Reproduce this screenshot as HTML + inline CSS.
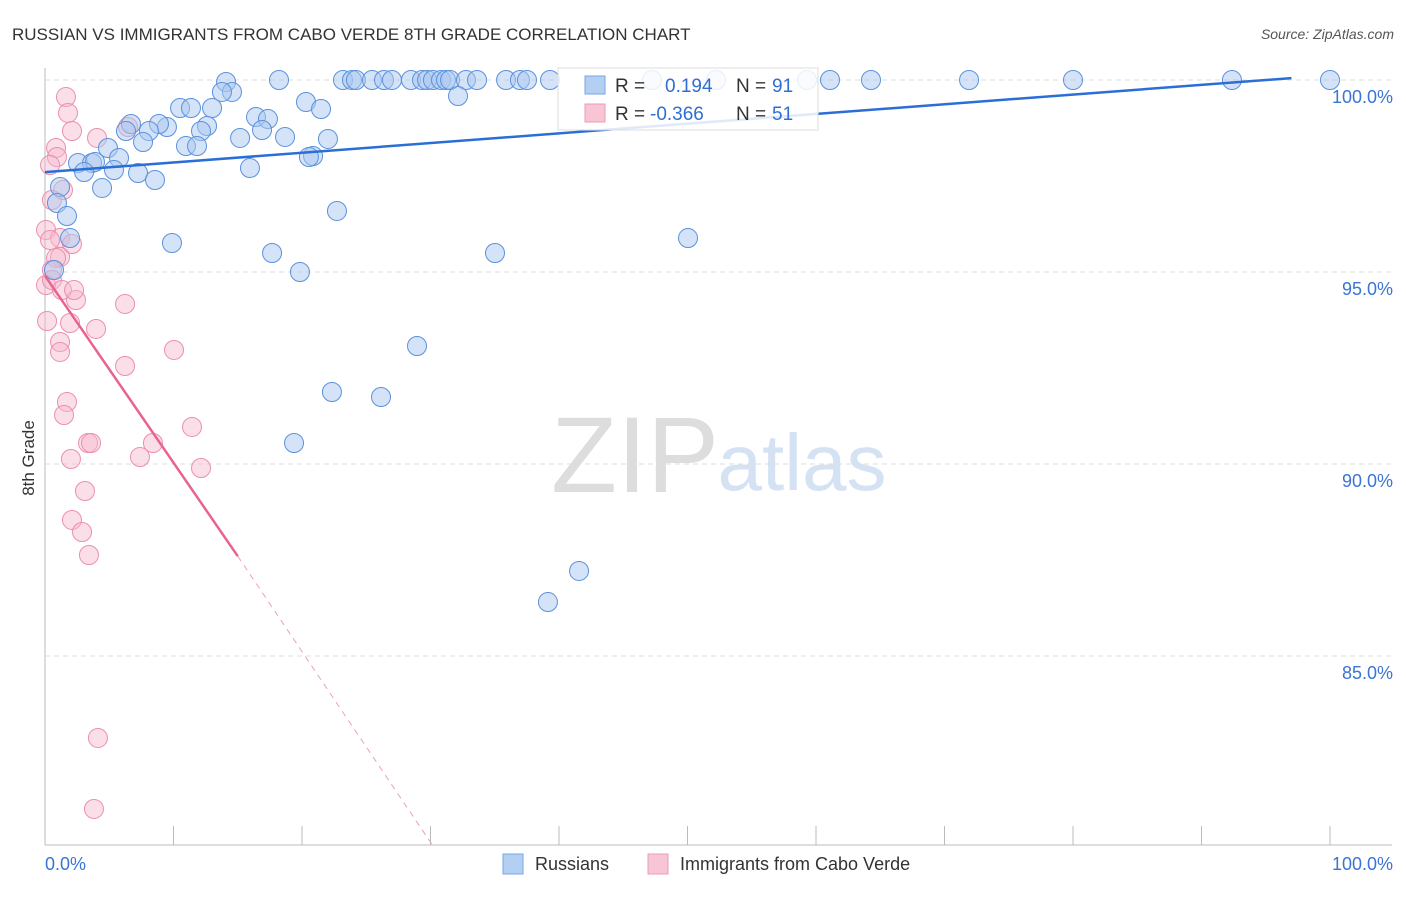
<!DOCTYPE html>
<html><head><meta charset="utf-8"><style>
body{margin:0;background:#fff;font-family:"Liberation Sans",sans-serif;}
svg text{font-family:"Liberation Sans",sans-serif;}
</style></head><body>
<svg width="1406" height="892">
<text x="12" y="40" font-size="17" fill="#333">RUSSIAN VS IMMIGRANTS FROM CABO VERDE 8TH GRADE CORRELATION CHART</text>
<text x="1394" y="39" font-size="14" fill="#555" font-style="italic" text-anchor="end">Source: ZipAtlas.com</text>
<text x="0" y="0" font-size="17" fill="#333" transform="translate(34,458) rotate(-90)" text-anchor="middle">8th Grade</text>
<g><text x="635" y="492" font-size="108" fill="#ddd" font-family="Liberation Serif" text-anchor="middle">ZIP</text><text x="802" y="490" font-size="80" fill="#d4e2f4" text-anchor="middle">atlas</text></g>
<g id="grid"></g><g id="axes"></g><g id="pts"></g><g id="lines"></g>
<g>
<rect x="558" y="68" width="260" height="62" fill="#fff" fill-opacity="0.85" stroke="#ddd"/>
<rect x="585" y="76" width="20" height="18" fill="#b3cff2" stroke="#7aa6e0"/>
<text x="615" y="92" font-size="19" fill="#333">R =</text>
<text x="665" y="92" font-size="19" fill="#2f6fd1">0.194</text>
<text x="736" y="92" font-size="19" fill="#333">N =</text>
<text x="772" y="92" font-size="19" fill="#2f6fd1">91</text>
<rect x="585" y="104" width="20" height="18" fill="#f7c5d4" stroke="#ec9bb4"/>
<text x="615" y="120" font-size="19" fill="#333">R =</text>
<text x="650" y="120" font-size="19" fill="#2f6fd1">-0.366</text>
<text x="736" y="120" font-size="19" fill="#333">N =</text>
<text x="772" y="120" font-size="19" fill="#2f6fd1">51</text>
</g>
<g>
<rect x="503" y="854" width="20" height="20" fill="#b3cff2" stroke="#7aa6e0"/>
<text x="535" y="870" font-size="18" fill="#333">Russians</text>
<rect x="648" y="854" width="20" height="20" fill="#f7c5d4" stroke="#ec9bb4"/>
<text x="680" y="870" font-size="18" fill="#333">Immigrants from Cabo Verde</text>
</g>
</svg>
<script>
const yTicks=[100,95,90,85];
const yTickLabels=["100.0%","95.0%","90.0%","85.0%"];
const xTicks=[0,10,20,30,40,50,60,70,80,90,100];
const xTickLabels=["0.0%","100.0%"];
const bluePx=[[279,80],[343,80],[352,80],[356,80],[372,80],[384,80],[392,80],[411,80],[422,80],[427,80],[433,80],[441,80],[446,80],[450,80],[466,80],[477,80],[506,80],[520,80],[527,80],[550,80],[652,80],[716,80],[807,80],[830,80],[871,80],[969,80],[1073,80],[1232,80],[1330,80],[226,82],[232,92],[222,92],[458,96],[180,108],[191,108],[212,108],[306,102],[321,109],[256,117],[268,119],[207,126],[167,127],[159,124],[131,124],[126,131],[149,131],[201,131],[240,138],[262,130],[285,137],[328,139],[186,146],[197,146],[143,142],[108,148],[78,163],[92,163],[95,162],[119,158],[313,156],[309,157],[84,172],[114,170],[138,173],[155,180],[250,168],[102,188],[60,187],[57,203],[67,216],[337,211],[172,243],[70,238],[688,238],[272,253],[495,253],[54,270],[300,272],[417,346],[332,392],[381,397],[294,443],[579,571],[548,602]];
const pinkPx=[[66,97],[68,113],[72,131],[97,138],[128,127],[56,148],[57,157],[50,165],[63,190],[52,200],[46,230],[60,238],[72,244],[60,257],[50,240],[56,258],[52,270],[46,285],[52,280],[62,290],[76,300],[74,290],[125,304],[70,323],[96,329],[47,321],[60,342],[60,352],[174,350],[125,366],[67,402],[64,415],[192,427],[88,443],[91,443],[153,443],[71,459],[140,457],[201,468],[85,491],[72,520],[82,532],[89,555],[98,738],[94,809]];
const russiansX=bluePx.map(p=>+((p[0]-45)/12.85).toFixed(2));
const russiansY=bluePx.map(p=>+(100-(p[1]-80)/38.4).toFixed(3));
const caboX=pinkPx.map(p=>+((p[0]-45)/12.85).toFixed(2));
const caboY=pinkPx.map(p=>+(100-(p[1]-80)/38.4).toFixed(3));
const blueTrend=[[0,97.6],[97,100.05]];
const pinkTrend=[[0,94.9],[15,87.6],[30.1,80.1]];
const xs=v=>45+v*12.85, ys=v=>80+(100-v)*38.4;
const NS="http://www.w3.org/2000/svg";
function mk(t,a,p){const e=document.createElementNS(NS,t);for(const k in a)e.setAttribute(k,a[k]);document.getElementById(p).appendChild(e);return e;}
yTicks.forEach((t,i)=>{
 const l=mk('line',{x1:45,x2:1392,y1:ys(t),y2:ys(t),stroke:'#ddd','stroke-dasharray':'5,4'},'grid');
 
 
 const tx=mk('text',{x:1393,y:ys(t)+23,'font-size':18,fill:'#3b73d6','text-anchor':'end'},'axes');
 tx.textContent=yTickLabels[i];
 
 
});
const ax=mk('line',{x1:45,x2:45,y1:68,y2:845,stroke:'#bbb'},'axes');


const bx=mk('line',{x1:45,x2:1392,y1:845,y2:845,stroke:'#bbb'},'axes');


xTicks.forEach(t=>{const l=mk('line',{x1:xs(t),x2:xs(t),y1:826,y2:845,stroke:'#bbb'},'axes');
 
 });
[[45,'start',0],[1393,'end',1]].forEach(([x,a,i])=>{const t=mk('text',{x:x,y:870,'font-size':18,fill:'#3b73d6','text-anchor':a},'axes');t.textContent=xTickLabels[i];
 
 });
caboX.forEach((x,i)=>{const c=mk('circle',{cx:xs(x),cy:ys(caboY[i]),r:9.5,fill:'#f7b8cb','fill-opacity':0.45,stroke:'#ec8fae','stroke-width':1},'pts');
 
 });
russiansX.forEach((x,i)=>{const c=mk('circle',{cx:xs(x),cy:ys(russiansY[i]),r:9.5,fill:'#a9c8f0','fill-opacity':0.5,stroke:'#5b92dd','stroke-width':1},'pts');
 
 });
const bl=mk('line',{x1:xs(blueTrend[0][0]),y1:ys(blueTrend[0][1]),x2:xs(blueTrend[1][0]),y2:ys(blueTrend[1][1]),stroke:'#2a6fd6','stroke-width':2.5},'lines');


const pl=mk('line',{x1:xs(pinkTrend[0][0]),y1:ys(pinkTrend[0][1]),x2:xs(pinkTrend[1][0]),y2:ys(pinkTrend[1][1]),stroke:'#e8648f','stroke-width':2.5},'lines');


const pd=mk('line',{x1:xs(pinkTrend[1][0]),y1:ys(pinkTrend[1][1]),x2:xs(pinkTrend[2][0]),y2:ys(pinkTrend[2][1]),stroke:'#eba0b8','stroke-width':1,'stroke-dasharray':'6,5'},'lines');


</script>
</body></html>
